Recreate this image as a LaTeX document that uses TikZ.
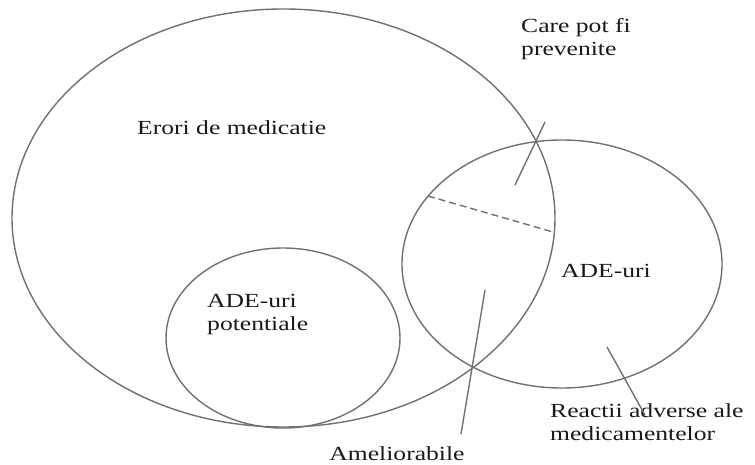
\documentclass[tikz,border=0pt]{standalone}
\usepackage{fontspec}
\setmainfont{Liberation Serif}[FakeStretch=1.28]
\usetikzlibrary{shapes.geometric}

\definecolor{ringgray}{RGB}{112,112,112}
\definecolor{inkgray}{RGB}{25,25,25}

\tikzset{
	ring/.style={ellipse, draw=ringgray, line width=1.4pt, inner sep=0pt, outer sep=0pt},
	lbl/.style={anchor=base west, inner sep=0pt, text=inkgray, align=left,
		font=\fontsize{20}{23}\selectfont},
	leader/.style={draw=ringgray, line width=1.4pt}
}

\begin{document}
\begin{tikzpicture}[x=1pt, y=-1pt]
		\useasboundingbox (0,0) rectangle (755,465);
		
		%sets
		\node[ring, minimum width=543, minimum height=418] (erori) at (283.5,218) {};
		\node[ring, minimum width=234, minimum height=180] (potentiale) at (283,338) {};
		\node[ring, minimum width=320, minimum height=248] (ade) at (562,264) {};
		
		%boundary between the two parts of the overlap
		\coordinate (cutL) at (428,196);
		\coordinate (cutR) at (553,232);
		\draw[leader, dashed, dash pattern=on 7pt off 4pt] (cutL) -- (cutR);
		
		%labels
		\node[lbl] (tErori) at (137,135) {Erori de medicatie};
		\node[lbl] (tPrev) at (521,56) {Care pot fi\\prevenite};
		\node[lbl] (tAde) at (561,277) {ADE-uri};
		\node[lbl] (tPot) at (207,330) {ADE-uri\\potentiale};
		\node[lbl, anchor=base] (tAmel) at (397,460) {Ameliorabile};
		\node[lbl] (tReact) at (550,440) {Reactii adverse ale\\medicamentelor};
		
		%leader lines
		\coordinate (prevA) at (545,122);
		\coordinate (prevB) at (515,185);
		\coordinate (amelA) at (485,290);
		\coordinate (amelB) at (461,434);
		\coordinate (reactA) at (607,347);
		\coordinate (reactB) at (645,415);
		\foreach \a/\b in {prevA/prevB, amelA/amelB, reactA/reactB}{
			\draw[leader] (\a) -- (\b);
		}
\end{tikzpicture}
\end{document}
